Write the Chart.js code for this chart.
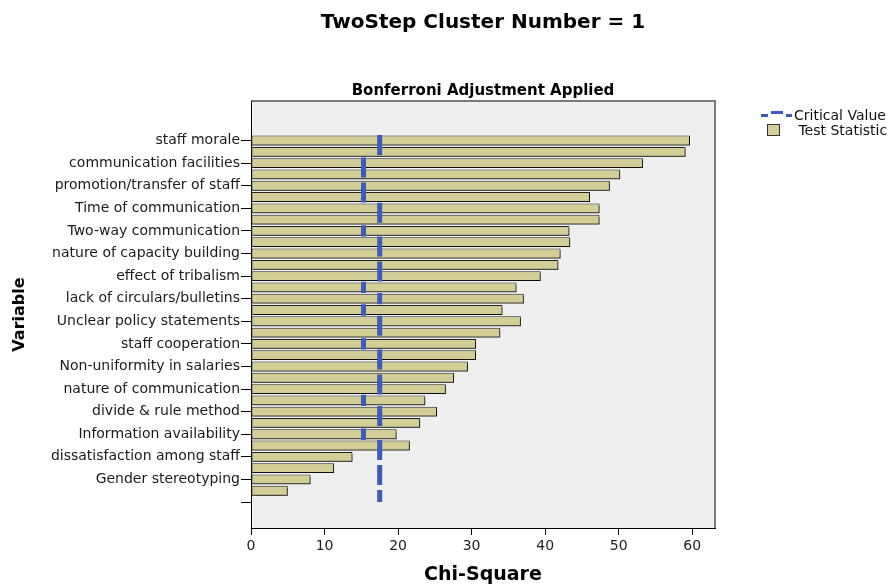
<!DOCTYPE html>
<html>
<head>
<meta charset="utf-8">
<script src="https://cdn.jsdelivr.net/npm/chart.js@4.4.1/dist/chart.umd.min.js"></script>
<style>
  body { margin: 0; background: #fff; }
  #wrap { position: relative; width: 890px; height: 586px; }
  .legend { position: absolute; left: 758px; top: 107px; font: 14px 'DejaVu Sans', sans-serif; color: #111; }
  .legend .row { display: flex; align-items: center; height: 15px; }
  .legend .icon { width: 36px; display: flex; justify-content: center; }
  .legend .box { width: 11px; height: 10px; margin-right: 6px; background: #d4cf97; border: 1px solid #333; }
</style>
</head>
<body>
<div id="wrap">
  <canvas id="chart" width="890" height="586"></canvas>
  <div class="legend">
    <div class="row">
      <span class="icon">
        <svg width="31" height="7"><rect x="0" y="3" width="7" height="3" fill="#3d5cb9"/><rect x="10" y="0" width="12" height="3" fill="#3d5cb9"/><rect x="25" y="3" width="6" height="3" fill="#3d5cb9"/></svg>
      </span>
      <span>Critical Value</span>
    </div>
    <div class="row">
      <span class="icon"><span class="box"></span></span>
      <span>&nbsp;Test Statistic</span>
    </div>
  </div>
</div>
<script>
// labels shown on the axis (every other variable), last tick is empty
const variableLabels = [
    'staff morale', 'communication facilities', 'promotion/transfer of staff',
    'Time of communication', 'Two-way communication', 'nature of capacity building',
    'effect of tribalism', 'lack of circulars/bulletins', 'Unclear policy statements',
    'staff cooperation', 'Non-uniformity in salaries', 'nature of communication',
    'divide & rule method', 'Information availability', 'dissatisfaction among staff',
    'Gender stereotyping', ''
];
const testStatistic = [
    59.7, 59.1, 53.3, 50.2, 48.8, 46.1, 47.4, 47.4, 43.3, 43.4, 42.1, 41.8, 39.4, 36.1, 37.1, 34.2,
    36.7, 33.9, 30.6, 30.6, 29.5, 27.6, 26.5, 23.7, 25.3, 23.0, 19.8, 21.6, 13.8, 11.3, 8.1, 5.0
];
const criticalValue = [
    17.5, 17.5, 15.3, 15.3, 15.3, 15.3, 17.5, 17.5, 15.3, 17.5, 17.5, 17.5, 17.5, 15.3, 17.5, 15.3,
    17.5, 17.5, 15.3, 17.5, 17.5, 17.5, 17.5, 15.3, 17.5, 17.5, 15.3, 17.5, 17.5, 17.5, 17.5, 17.5, 17.5
];
const xTicks = [0, 10, 20, 30, 40, 50, 60];

Chart.defaults.font.family = "'DejaVu Sans', sans-serif";
Chart.defaults.color = '#1a1a1a';

// critical value: one vertical run per block of equal values
const critPoints = [];
let start = 0;
for (let i = 1; i <= criticalValue.length; i++) {
    if (i === criticalValue.length || criticalValue[i] !== criticalValue[start]) {
        const end = Math.min(i - 0.5, criticalValue.length - 1);
        critPoints.push({ x: criticalValue[start], y: start - 0.5 });
        critPoints.push({ x: criticalValue[start], y: end });
        critPoints.push({ x: null, y: null });
        start = i;
    }
}

const plotFrame = {
    id: 'plotFrame',
    beforeDraw(chart) {
        const { ctx, chartArea: a } = chart;
        ctx.save();
        ctx.fillStyle = '#efefef';
        ctx.fillRect(a.left, a.top, a.right - a.left, a.bottom - a.top);
        ctx.strokeStyle = '#7a7a7a';
        ctx.lineWidth = 2;
        ctx.beginPath();
        ctx.moveTo(a.left, a.top);
        ctx.lineTo(a.right, a.top);
        ctx.lineTo(a.right, a.bottom);
        ctx.stroke();
        ctx.restore();
    },
    beforeDatasetDraw(chart, args) {
        if (args.meta.type !== 'bar') return;
        const ctx = chart.ctx;
        ctx.save();
        ctx.shadowColor = 'rgba(0,0,0,0.55)';
        ctx.shadowOffsetX = 1;
        ctx.shadowOffsetY = 2;
        ctx.shadowBlur = 0;
    },
    afterDatasetDraw(chart, args) {
        if (args.meta.type === 'bar') chart.ctx.restore();
    }
};

new Chart(document.getElementById('chart'), {
    type: 'bar',
    data: {
        datasets: [{
            type: 'line',
            label: 'Critical Value',
            indexAxis: 'y',
            data: critPoints,
            borderColor: '#3d5cb9',
            borderWidth: 5,
            borderDash: [20, 5],
            borderCapStyle: 'butt',
            pointRadius: 0,
            fill: false,
            order: 1
        }, {
            label: 'Test Statistic',
            data: testStatistic.map((v, i) => ({ x: v, y: i })),
            backgroundColor: '#d3ce96',
            borderColor: '#222',
            borderWidth: 1,
            borderSkipped: false,
            barPercentage: 0.87,
            categoryPercentage: 1,
            order: 2
        }]
    },
    options: {
        indexAxis: 'y',
        responsive: false,
        animation: false,
        layout: { padding: { left: 0, right: 175, top: 0, bottom: 0 } },
        plugins: {
            legend: { display: false },
            tooltip: { enabled: false },
            title: {
                display: true,
                text: 'TwoStep Cluster Number = 1',
                fullSize: false,
                color: '#000',
                font: { size: 20, weight: 'bold' },
                padding: { top: 11, bottom: 40 }
            },
            subtitle: {
                display: true,
                text: 'Bonferroni Adjustment Applied',
                fullSize: false,
                color: '#000',
                font: { size: 15, weight: 'bold' },
                padding: { top: 7, bottom: 1 }
            }
        },
        scales: {
            x: {
                type: 'linear',
                position: 'bottom',
                min: 0,
                max: 63.1,
                grid: { drawOnChartArea: false, tickLength: 7, color: '#000' },
                border: { color: '#000' },
                ticks: { font: { size: 14 }, padding: 3, color: '#222' },
                afterBuildTicks: s => { s.ticks = xTicks.map(v => ({ value: v })); },
                afterFit: s => { s.height = 58; },
                title: {
                    display: true,
                    text: 'Chi-Square',
                    color: '#000',
                    font: { size: 19, weight: 'bold', lineHeight: 1 },
                    padding: { top: 0, bottom: 1 }
                }
            },
            y: {
                type: 'linear',
                reverse: true,
                offset: false,
                min: -3.5,
                max: 34.3,
                grid: { offset: false, drawOnChartArea: false, tickLength: 10, color: '#000' },
                border: { color: '#000' },
                ticks: {
                    font: { size: 14 },
                    padding: 1,
                    color: '#1a1a1a',
                    autoSkip: false,
                    callback: v => variableLabels[v / 2] ?? ''
                },
                afterBuildTicks: s => { s.ticks = variableLabels.map((_, k) => ({ value: k * 2 })); },
                afterFit: s => { s.width = 251; },
                title: {
                    display: true,
                    text: 'Variable',
                    color: '#000',
                    font: { size: 16, weight: 'bold' },
                    padding: { top: 10, bottom: 0 }
                }
            }
        }
    },
    plugins: [plotFrame]
});
</script>
</body>
</html>
